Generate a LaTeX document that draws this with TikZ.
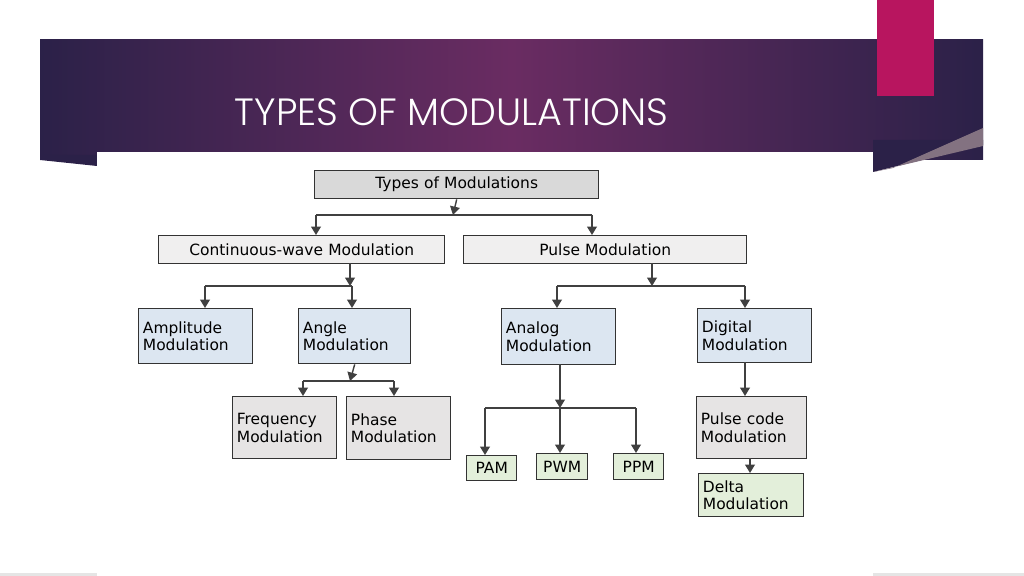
\documentclass[tikz,border=0pt]{standalone}
\usepackage{fontspec}
\setmainfont{DejaVu Sans}
\newfontfamily\titlefont{Poppins Light}
\usetikzlibrary{arrows.meta}
\definecolor{bluebox}{HTML}{DCE6F1}
\definecolor{graybox}{HTML}{E6E4E4}
\definecolor{greenbox}{HTML}{E3EFDA}
\definecolor{ban1}{HTML}{2B2148}
\definecolor{ban2}{HTML}{6A2C62}
\definecolor{mag}{HTML}{B8155F}
\tikzset{
 bx/.style={draw=black!80, line width=1pt, font=\fontsize{11}{12.5}\selectfont, inner xsep=3pt, inner ysep=0pt, anchor=north west},
 ar/.style={draw=black!75, line width=1pt, -{Triangle[length=6pt,width=7pt]}},
 ln/.style={draw=black!75, line width=1pt}
}
\newcommand{\bxl}[7]{\node[bx, fill=#6, text width={(#4-#2)*0.025cm-6pt}, minimum height={(#5-#3)*0.025cm}, align=left] (#1) at (#2,#3) {#7};}
\newcommand{\bxc}[7]{\node[bx, fill=#6, text width={(#4-#2)*0.025cm-6pt}, minimum height={(#5-#3)*0.025cm}, align=center] (#1) at (#2,#3) {#7};}
\begin{document}
\begin{tikzpicture}[x=0.025cm,y=-0.025cm]
\useasboundingbox (0,0) rectangle (1024,576);
\fill[white] (0,0) rectangle (1024,576);
\fill[black!10] (0,573) rectangle (1024,576);
% banner
\shade[left color=ban1, right color=ban1, middle color=ban2] (40,40) rectangle (983,160);
\fill[ban1] (40,155) -- (97,155) -- (97,166) -- (40,160) -- cycle;
\fill[white] (97,152) rectangle (873,576);
\fill[ban1] (873,140) -- (983,140) -- (983,145) -- (873,172) -- cycle;
\fill[black!55!ban2!60!white] (893,168) -- (983,128) -- (983,146) -- (873,172) -- cycle;
\fill[mag] (877,0) rectangle (934,96);
\node[anchor=west, text=white, font=\titlefont\fontsize{27}{30}\selectfont] (title) at (230,112) {TYPES OF MODULATIONS};
% boxes
\bxc{types}{314}{170}{598}{198}{black!15}{Types of Modulations}
\bxc{cont}{158}{235}{444}{263}{graybox!60}{Continuous-wave Modulation}
\bxc{pulse}{463}{235}{746}{263}{graybox!60}{Pulse Modulation}
\bxl{amp}{138}{308}{252}{363}{bluebox}{Amplitude\\Modulation}
\bxl{angle}{298}{308}{410}{363}{bluebox}{Angle\\Modulation}
\bxl{analog}{501}{308}{615}{364}{bluebox}{Analog\\Modulation}
\bxl{digital}{697}{308}{811}{362}{bluebox}{Digital\\Modulation}
\bxl{freq}{232}{396}{336}{458}{graybox}{Frequency\\Modulation}
\bxl{phase}{346}{396}{450}{459}{graybox}{Phase\\Modulation}
\bxc{pam}{466}{455}{516}{480}{greenbox}{PAM}
\bxc{pwm}{536}{453}{587}{479}{greenbox}{PWM}
\bxc{ppm}{613}{453}{663}{479}{greenbox}{PPM}
\bxl{pcm}{696}{396}{806}{458}{graybox}{Pulse code\\Modulation}
\bxl{delta}{698}{473}{803}{516}{greenbox}{Delta\\Modulation}
% connectors
\coordinate (b1) at (453,215);
\draw[ar] (types.south) -- (b1);
\draw[ln] (316,215) -- (592,215);
\draw[ar] (316,215) -- (316,235);
\draw[ar] (592,215) -- (592,235);
\coordinate (b2) at (350,286);
\draw[ar] (350,263) -- (b2);
\draw[ln] (205,286) -- (352,286);
\draw[ar] (205,286) -- (205,308);
\draw[ar] (352,286) -- (352,308);
\coordinate (b3) at (652,286);
\draw[ar] (652,263) -- (b3);
\draw[ln] (557,286) -- (745,286);
\draw[ar] (557,286) -- (557,308);
\draw[ar] (745,286) -- (745,308);
\coordinate (b4) at (350,381);
\draw[ar] (angle.south) -- (b4);
\draw[ln] (303,381) -- (394,381);
\draw[ar] (303,381) -- (303,396);
\draw[ar] (394,381) -- (394,396);
\coordinate (b5) at (560,408);
\draw[ar] (560,364) -- (b5);
\draw[ln] (485,408) -- (636,408);
\draw[ar] (485,408) -- (485,455);
\draw[ar] (560,408) -- (560,453);
\draw[ar] (636,408) -- (636,453);
\draw[ar] (745,362) -- (745,396);
\draw[ar] (750,458) -- (750,473);
\end{tikzpicture}
\end{document}
